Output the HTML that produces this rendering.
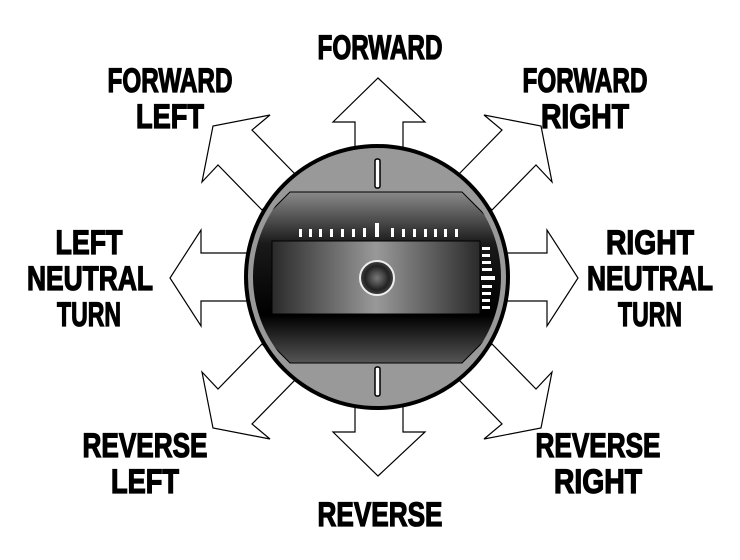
<!DOCTYPE html>
<html><head><meta charset="utf-8"><style>
html,body{margin:0;padding:0;background:#fff;}
svg{display:block}
text{font-family:"Liberation Sans Narrow","Liberation Sans",sans-serif;font-weight:bold;font-size:34px;fill:#000;stroke:#000;stroke-width:1.3;text-anchor:middle}
</style></head><body>
<svg width="740" height="560" viewBox="0 0 740 560" xmlns="http://www.w3.org/2000/svg">
<defs>
<linearGradient id="ig" x1="0" y1="0" x2="0" y2="1">
<stop offset="0" stop-color="#8a8a8a"/><stop offset="0.3" stop-color="#1a1a1a"/><stop offset="0.72" stop-color="#000"/><stop offset="1" stop-color="#555"/>
</linearGradient>
<linearGradient id="sg" x1="0" y1="0" x2="1" y2="0">
<stop offset="0" stop-color="#2a2a2a"/><stop offset="0.5" stop-color="#999"/><stop offset="1" stop-color="#2a2a2a"/>
</linearGradient>
<radialGradient id="kg"><stop offset="0" stop-color="#777"/><stop offset="0.3" stop-color="#555"/><stop offset="0.7" stop-color="#222"/><stop offset="1" stop-color="#444"/></radialGradient>
<clipPath id="cc"><circle cx="377" cy="277" r="124"/></clipPath>
</defs>
<g fill="#fff" stroke="#000" stroke-width="1.2">
<polygon points="355,170 355,122 333,122 378,78 425,122 403,122 403,170"/>
<polygon points="355,384 355,432 333,432 378,476 425,432 403,432 403,384"/>
<polygon points="250,253 201,253 201,230 170,278 201,326 201,301 250,301"/>
<polygon points="504,253 547,253 547,230 578,278 547,326 547,301 504,301"/>
<polygon points="296,175 252,130 270,115 213,126 202,182 218,165 262,210"/>
<polygon points="458,175 502,130 484,115 541,126 552,182 536,165 492,210"/>
<polygon points="296,379 252,424 270,439 213,428 202,372 218,389 262,344"/>
<polygon points="458,379 502,424 484,439 541,428 552,372 536,389 492,344"/>
</g>
<circle cx="377" cy="277" r="131" fill="#999" stroke="#000" stroke-width="4"/>
<g clip-path="url(#cc)">
<polygon points="290,192 462,192 520,250 520,305 462,363 290,363 232,305 232,250" fill="url(#ig)" stroke="#000" stroke-width="1"/>
</g>
<rect x="272" y="241" width="208" height="73" fill="url(#sg)" stroke="#000" stroke-width="1"/>
<circle cx="377" cy="278" r="17" fill="url(#kg)" stroke="#eee" stroke-width="2"/>
<g fill="#fff">
<rect x="299" y="229" width="3" height="8"/><rect x="309" y="229" width="3" height="8"/><rect x="319" y="229" width="3" height="8"/><rect x="330" y="229" width="3" height="8"/><rect x="341" y="229" width="3" height="8"/><rect x="352" y="229" width="3" height="8"/><rect x="363" y="228" width="3" height="9"/>
<rect x="375" y="223" width="4" height="14"/>
<rect x="391" y="228" width="3" height="9"/><rect x="402" y="229" width="3" height="8"/><rect x="413" y="229" width="3" height="8"/><rect x="424" y="229" width="3" height="8"/><rect x="434" y="229" width="3" height="8"/><rect x="444" y="229" width="3" height="8"/><rect x="455" y="229" width="3" height="8"/>
<rect x="482" y="247" width="8" height="3"/><rect x="482" y="254" width="8" height="3"/><rect x="482" y="261" width="9" height="3"/><rect x="482" y="268" width="10" height="3"/><rect x="481" y="276" width="14" height="4"/><rect x="482" y="285" width="10" height="3"/><rect x="482" y="292" width="9" height="3"/><rect x="482" y="299" width="8" height="3"/><rect x="482" y="306" width="8" height="3"/>
</g>
<rect x="375" y="159" width="5" height="29" rx="2" fill="#fff" stroke="#000" stroke-width="1.5"/>
<rect x="375" y="367" width="5" height="29" rx="2" fill="#fff" stroke="#000" stroke-width="1.5"/>
<text x="380" y="59" textLength="125" lengthAdjust="spacingAndGlyphs">FORWARD</text>
<text x="170" y="92" textLength="125" lengthAdjust="spacingAndGlyphs">FORWARD</text>
<text x="170" y="128" textLength="68" lengthAdjust="spacingAndGlyphs">LEFT</text>
<text x="585" y="92" textLength="125" lengthAdjust="spacingAndGlyphs">FORWARD</text>
<text x="585" y="128" textLength="88" lengthAdjust="spacingAndGlyphs">RIGHT</text>
<text x="89" y="254" textLength="67" lengthAdjust="spacingAndGlyphs">LEFT</text>
<text x="90" y="290" textLength="126" lengthAdjust="spacingAndGlyphs">NEUTRAL</text>
<text x="89" y="326" textLength="64" lengthAdjust="spacingAndGlyphs">TURN</text>
<text x="650" y="254" textLength="88" lengthAdjust="spacingAndGlyphs">RIGHT</text>
<text x="650" y="290" textLength="126" lengthAdjust="spacingAndGlyphs">NEUTRAL</text>
<text x="650" y="326" textLength="64" lengthAdjust="spacingAndGlyphs">TURN</text>
<text x="145" y="457" textLength="125" lengthAdjust="spacingAndGlyphs">REVERSE</text>
<text x="145" y="493" textLength="68" lengthAdjust="spacingAndGlyphs">LEFT</text>
<text x="598" y="457" textLength="125" lengthAdjust="spacingAndGlyphs">REVERSE</text>
<text x="598" y="493" textLength="88" lengthAdjust="spacingAndGlyphs">RIGHT</text>
<text x="380" y="526" textLength="125" lengthAdjust="spacingAndGlyphs">REVERSE</text>
</svg>
</body></html>
